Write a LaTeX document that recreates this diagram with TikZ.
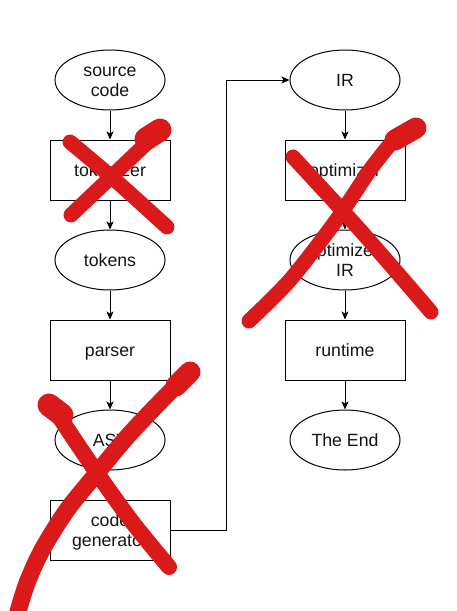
\documentclass[tikz,border=0pt]{standalone}
\usepackage{fontspec}
\setmainfont{Liberation Sans}
\usetikzlibrary{arrows.meta,shapes.geometric}
\definecolor{xred}{RGB}{218,26,26}
\definecolor{ink}{RGB}{20,20,20}
\begin{document}
\begin{tikzpicture}[x=1pt,y=-1pt,
  every node/.style={font=\fontsize{17.7}{20}\selectfont, align=center, text=ink},
  oval/.style={draw, line width=1pt, ellipse, minimum width=110pt, minimum height=60pt, inner sep=0pt, text height=12.5pt, text depth=0.5pt},
  box/.style={draw, line width=1pt, rectangle, minimum width=120pt, minimum height=60pt, inner sep=0pt, text height=12.5pt, text depth=0.5pt},
  twoline/.style={text height=32.5pt},
  arr/.style={draw, line width=1pt, -{Stealth[length=8pt,width=7pt,inset=2pt]}},
  redx/.style={draw=xred, line cap=round, line join=round}]
\useasboundingbox (0,0) rectangle (456,611);
\fill[white] (0,0) rectangle (456,611);
% left column
\node[oval, twoline] (src) at (110,80) {source\\code};
\node[box] (tok) at (110,170) {tokenizer};
\node[oval] (tks) at (110,260) {tokens};
\node[box] (par) at (110,350) {parser};
\node[oval] (ast) at (110,440) {AST};
\node[box, twoline] (cg) at (110,530) {code\\generator};
% right column
\node[oval] (ir) at (345,80) {IR};
\node[box] (opt) at (345,170) {optimizer};
\node[oval, twoline] (oir) at (345,260) {optimized\\IR};
\node[box] (rt) at (345,350) {runtime};
\node[oval] (end) at (345,440) {The End};
% connectors
\draw[arr] (src) -- (tok);
\draw[arr] (tok) -- (tks);
\draw[arr] (tks) -- (par);
\draw[arr] (par) -- (ast);
\coordinate (bend) at (226,530);
\draw[arr] (cg.east) -- (bend) |- (ir.west);
\draw[arr] (ir) -- (opt);
\draw[arr] (opt) -- (oir);
\draw[arr] (oir) -- (rt);
\draw[arr] (rt) -- (end);
% red crosses
% cross 1
\draw[redx, line width=15pt] plot[smooth] coordinates {(70,142) (115,180) (167,227)};
\draw[redx, line width=15pt] plot[smooth] coordinates {(71,215) (110,178) (150,140)};
\draw[redx, line width=23pt] (146,139) -- (160,130);
% cross 2
\draw[redx, line width=16pt] plot[smooth] coordinates {(58,415) (97,473) (133,523) (169,567)};
\draw[redx, line width=23pt] (49,405) -- (62,415);
\draw[redx, line width=17pt] plot[smooth] coordinates {(190,372) (160,402) (127,437) (97,473) (67,510) (42,550) (27,583) (17,615)};
\draw[redx, line width=21pt] (190,372) -- (176,386);
% cross 3
\draw[redx, line width=15pt] plot[smooth] coordinates {(293,157) (360,230) (431,312)};
\draw[redx, line width=15pt] plot[smooth] coordinates {(249,321) (290,280) (335,222) (370,170) (392,142)};
\draw[redx, line width=21pt] (395,140) -- (416,128);
\end{tikzpicture}
\end{document}
